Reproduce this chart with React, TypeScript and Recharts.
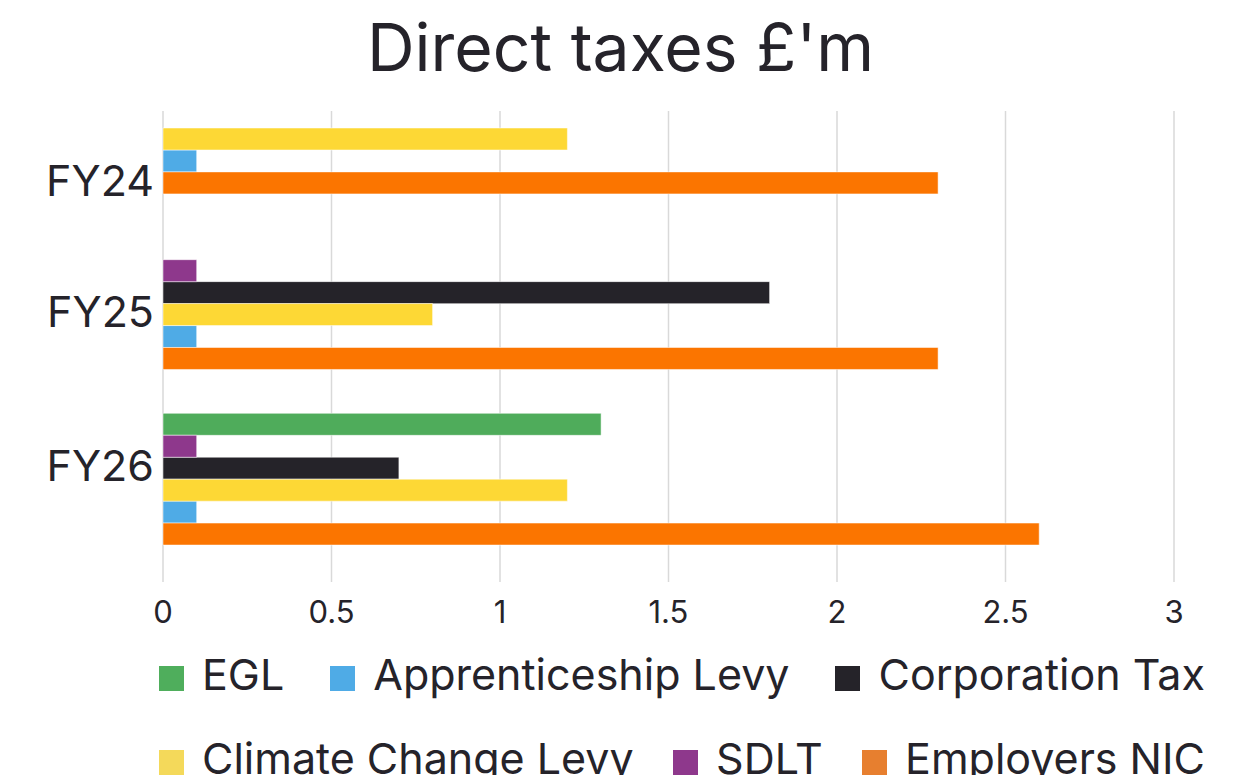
import React from 'react'
import { Bar, BarChart, CartesianGrid, XAxis, YAxis } from 'recharts'

// Direct taxes by financial year, £m (null = no bar that year)
const categories = ['FY24', 'FY25', 'FY26']
const egl = [null, null, 1.3]
const apprenticeshipLevy = [0.1, 0.1, 0.1]
const corporationTax = [null, 1.8, 0.7]
const climateChangeLevy = [1.2, 0.8, 1.2]
const sdlt = [null, 0.1, 0.1]
const employersNic = [2.3, 2.3, 2.6]
const xTicks = [0, 0.5, 1, 1.5, 2, 2.5, 3]

const TEXT = '#25232a'
const FONT = 'Inter, "Liberation Sans", Arial, sans-serif'

interface Series {
  key: string
  name: string
  values: (number | null)[]
  color: string
  legendColor: string
}

// legend order
const series: Series[] = [
  { key: 'egl', name: 'EGL', values: egl, color: '#4fac5b', legendColor: '#4fae5c' },
  { key: 'apprenticeshipLevy', name: 'Apprenticeship Levy', values: apprenticeshipLevy, color: '#4fabe6', legendColor: '#4fabe6' },
  { key: 'corporationTax', name: 'Corporation Tax', values: corporationTax, color: '#252329', legendColor: '#252329' },
  { key: 'climateChangeLevy', name: 'Climate Change Levy', values: climateChangeLevy, color: '#fdd835', legendColor: '#f4d95a' },
  { key: 'sdlt', name: 'SDLT', values: sdlt, color: '#8e388c', legendColor: '#8e388c' },
  { key: 'employersNic', name: 'Employers NIC', values: employersNic, color: '#fb7500', legendColor: '#e77f2f' }
]

// top-to-bottom order of the bars inside each year
const barOrder = ['egl', 'sdlt', 'corporationTax', 'climateChangeLevy', 'apprenticeshipLevy', 'employersNic']
// empty rows left after each year's bars (the source packs present bars only)
const gapRowsAfter = [3, 2, 0]
const labelRowInGroup = 2

interface Row {
  row: string
  [key: string]: string | number
}

function buildRows() {
  const rows: Row[] = []
  const labels = new Map<string, string>()
  categories.forEach((cat, ci) => {
    let n = 0
    barOrder.forEach((key) => {
      const s = series.find((item) => item.key === key)!
      const v = s.values[ci]
      if (v == null) return
      const id = `${cat}-${key}`
      rows.push({ row: id, [key]: v })
      if (n === labelRowInGroup) labels.set(id, cat)
      n += 1
    })
    for (let g = 0; g < gapRowsAfter[ci]; g += 1) rows.push({ row: `${cat}-gap-${g}` })
  })
  return { rows, labels }
}

const { rows, labels } = buildRows()

function YearTick(props: { x?: number; y?: number; payload?: { value?: string } }) {
  const label = labels.get(props.payload?.value || '')
  if (!label) return null
  return (
    <text x={(props.x ?? 0) - 1} y={props.y ?? 0} dy="0.3em" textAnchor="end" fill={TEXT} fontFamily={FONT} fontSize={43}>
      {label}
    </text>
  )
}

export default function App() {
  return (
    <div style={{ position: 'absolute', left: 0, top: 0, width: 1251, height: 775, overflow: 'hidden', background: '#fff', fontFamily: FONT }}>
      <div
        style={{
          position: 'absolute',
          left: 0,
          top: 14,
          width: 1241,
          textAlign: 'center',
          fontSize: 66,
          lineHeight: '67px',
          color: TEXT
        }}
      >
        Direct taxes £'m
      </div>
      <div style={{ position: 'absolute', left: 0, top: 0 }}>
        <BarChart
          width={1251}
          height={640}
          data={rows}
          layout="vertical"
          barCategoryGap={0}
          margin={{ top: 111, right: 77, bottom: 28, left: 13 }}
        >
          <CartesianGrid horizontal={false} stroke="#d9d9d9" strokeWidth={1.5} />
          <XAxis
            type="number"
            domain={[0, 3]}
            ticks={xTicks}
            height={30}
            axisLine={false}
            tickLine={false}
            tickMargin={13}
            tick={{ fill: TEXT, fontSize: 31, fontFamily: FONT }}
          />
          <YAxis
            type="category"
            dataKey="row"
            width={150}
            interval={0}
            padding={{ top: 17, bottom: 37 }}
            axisLine={false}
            tickLine={false}
            tick={(p: any) => <YearTick {...p} />}
          />
          {series.map((s) => (
            <Bar
              key={s.key}
              dataKey={s.key}
              name={s.name}
              stackId="slot"
              fill={s.color}
              stroke="#ffffff"
              strokeOpacity={0.5}
              strokeWidth={1}
              isAnimationActive={false}
            />
          ))}
        </BarChart>
      </div>
      <div
        style={{
          position: 'absolute',
          left: 159,
          top: 649,
          width: 1046,
          display: 'flex',
          flexWrap: 'wrap',
          justifyContent: 'space-between',
          rowGap: 34
        }}
      >
        {series.map((s) => (
          <div key={s.key} style={{ display: 'flex', alignItems: 'center', height: 50 }}>
            <span style={{ display: 'inline-block', width: 25, height: 25, marginTop: 8, background: s.legendColor }} />
            <span style={{ marginLeft: 18, fontSize: 43, lineHeight: '50px', color: TEXT, whiteSpace: 'nowrap' }}>{s.name}</span>
          </div>
        ))}
      </div>
    </div>
  )
}
